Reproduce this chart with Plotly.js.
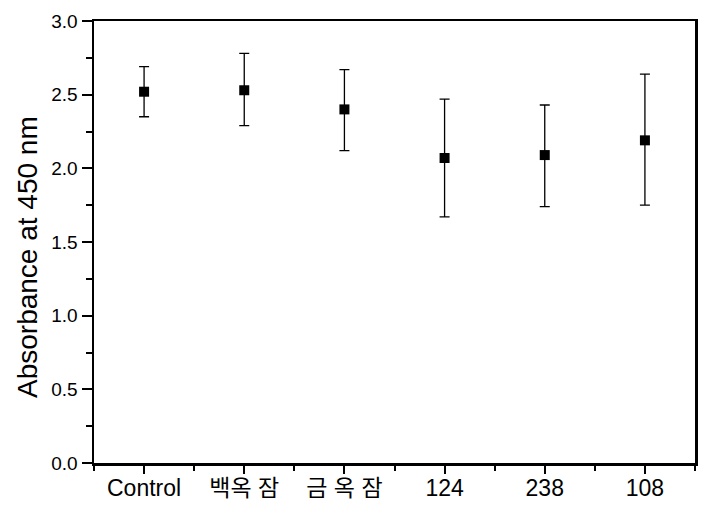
<!DOCTYPE html>
<html><head><meta charset="utf-8">
<script src="https://cdn.plot.ly/plotly-3.0.1.min.js"></script>
<style>body{margin:0;background:#fff}#c{width:712px;height:515px}</style>
</head><body><div id="c"></div>
<script>
const categories = ["Control", "백옥 잠", "금 옥 잠", "124", "238", "108"];
const means = [2.52, 2.53, 2.40, 2.07, 2.09, 2.19];
const upper = [2.69, 2.78, 2.67, 2.47, 2.43, 2.64];
const lower = [2.35, 2.29, 2.12, 1.67, 1.74, 1.75];
const yTitle = 'Absorbance at 450 nm';

const idx = categories.map((c, i) => i);
const plus = means.map((m, i) => +(upper[i] - m).toFixed(3));
const minus = means.map((m, i) => +(m - lower[i]).toFixed(3));

const trace = {
  x: idx, y: means, type: 'scatter', mode: 'markers',
  marker: {symbol: 'square', size: 10, color: '#000'},
  error_y: {type: 'data', symmetric: false, array: plus, arrayminus: minus,
            color: '#000', thickness: 1.3, width: 5},
  hoverinfo: 'none', showlegend: false
};

const layout = {
  width: 712, height: 515,
  margin: {l: 94, r: 17, t: 21, b: 52},
  paper_bgcolor: '#fff', plot_bgcolor: '#fff',
  font: {family: 'Arial, "Liberation Sans", "Noto Sans CJK KR"', color: '#000'},
  xaxis: {
    range: [-0.5, 5.5], tickmode: 'array', tickvals: idx, ticktext: categories,
    ticks: 'outside', ticklen: 8, tickwidth: 2, tickcolor: '#000',
    ticklabelstandoff: -5,
    minor: {tickmode: 'array', tickvals: [-0.5, 0.5, 1.5, 2.5, 3.5, 4.5, 5.5], ticks: 'outside', ticklen: 5, tickwidth: 2, tickcolor: '#000'},
    showline: true, linewidth: 2.5, linecolor: '#000', mirror: true,
    showgrid: false, zeroline: false,
    tickfont: {size: 23, family: 'Arial, "Liberation Sans", "Noto Sans CJK KR"'}
  },
  yaxis: {
    range: [0, 3.0], tickmode: 'linear', tick0: 0, dtick: 0.5, tickformat: '.1f',
    ticks: 'outside', ticklen: 10, tickwidth: 2, tickcolor: '#000',
    minor: {dtick: 0.25, ticks: 'outside', ticklen: 6, tickwidth: 2, tickcolor: '#000'},
    showline: true, linewidth: 2.5, linecolor: '#000', mirror: true,
    showgrid: false, zeroline: false,
    tickfont: {size: 19}
  },
  annotations: [{
    text: yTitle, xref: 'paper', yref: 'paper', x: -0.1115, y: 0.466,
    xanchor: 'center', yanchor: 'middle', textangle: -90, showarrow: false,
    font: {size: 28}
  }]
};

Plotly.newPlot('c', [trace], layout, {staticPlot: true, displayModeBar: false});
</script></body></html>
